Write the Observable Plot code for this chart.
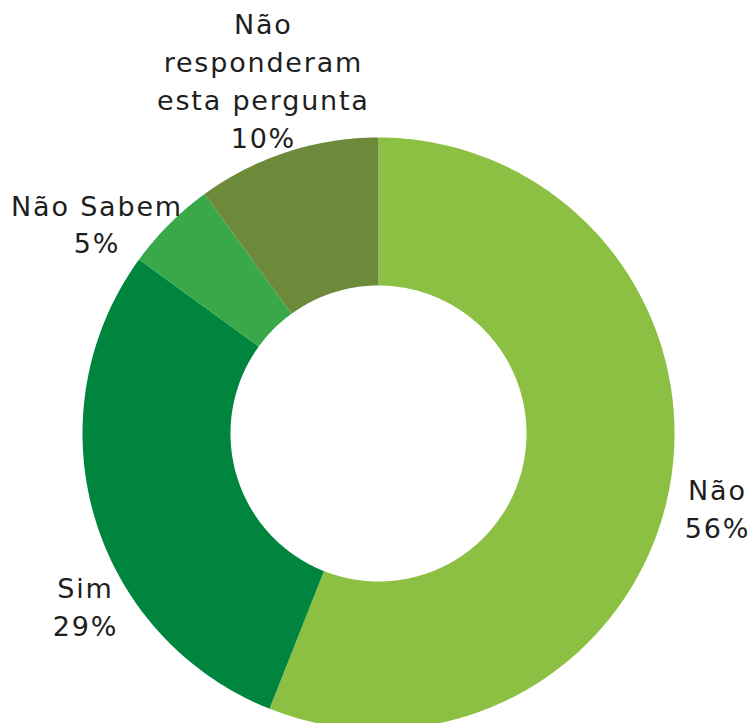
<!DOCTYPE html>
<html>
<head>
<meta charset="utf-8">
<script src="https://cdn.jsdelivr.net/npm/d3@7"></script>
<script src="https://cdn.jsdelivr.net/npm/@observablehq/plot@0.6"></script>
<style>
  html, body { margin: 0; padding: 0; background: #fff; }
  #chart svg { display: block; }
</style>
</head>
<body>
<div id="chart"></div>
<script>
// ---- data ----
const categories = ["Não", "Sim", "Não Sabem", "Não responderam esta pergunta"];
const labels = ["Não\n56%", "Sim\n29%", "Não Sabem\n5%", "Não\nresponderam\nesta pergunta\n10%"];
const values = [56, 29, 5, 10];
const colors = ["#8cc043", "#00853f", "#39a849", "#6c8a3a"];

// ---- layout ----
const innerR = 0.5, outerR = 1;
const labelPos = [[1.145, -0.247], [-0.99, -0.578], [-0.951, 0.713], [-0.389, 1.198]];

const pie = d3.pie().sort(null).value(d => d.value)(
  categories.map((c, i) => ({ category: c, value: values[i], color: colors[i] }))
);

const poly = [];
pie.forEach(a => {
  const n = Math.max(8, Math.ceil((a.endAngle - a.startAngle) * 80));
  for (let k = 0; k <= n; k++) {
    const t = a.startAngle + (a.endAngle - a.startAngle) * k / n;
    poly.push({ key: a.data.category, color: a.data.color, x: outerR * Math.sin(t), y: outerR * Math.cos(t) });
  }
  for (let k = n; k >= 0; k--) {
    const t = a.startAngle + (a.endAngle - a.startAngle) * k / n;
    poly.push({ key: a.data.category, color: a.data.color, x: innerR * Math.sin(t), y: innerR * Math.cos(t) });
  }
});

const labelData = categories.map((c, i) => ({ text: labels[i], x: labelPos[i][0], y: labelPos[i][1] }));

const chart = Plot.plot({
  width: 749,
  height: 723,
  margin: 0,
  style: { background: "#fff" },
  x: { domain: [-1, 1], range: [82, 674], axis: null },
  y: { domain: [-1, 1], range: [729, 137], axis: null },
  color: { type: "identity" },
  marks: [
    Plot.line(poly, { x: "x", y: "y", z: "key", fill: "color", stroke: "none", curve: "linear-closed" }),
    Plot.text(labelData, {
      x: "x", y: "y", text: "text",
      fontSize: 27, lineHeight: 1.4, fill: "#1e1e1e",
      fontFamily: "DejaVu Sans", textAnchor: "middle", lineAnchor: "middle"
    })
  ]
});
chart.querySelectorAll("text").forEach(t => t.style.letterSpacing = "1.8px");
document.getElementById("chart").appendChild(chart);
</script>
</body>
</html>
